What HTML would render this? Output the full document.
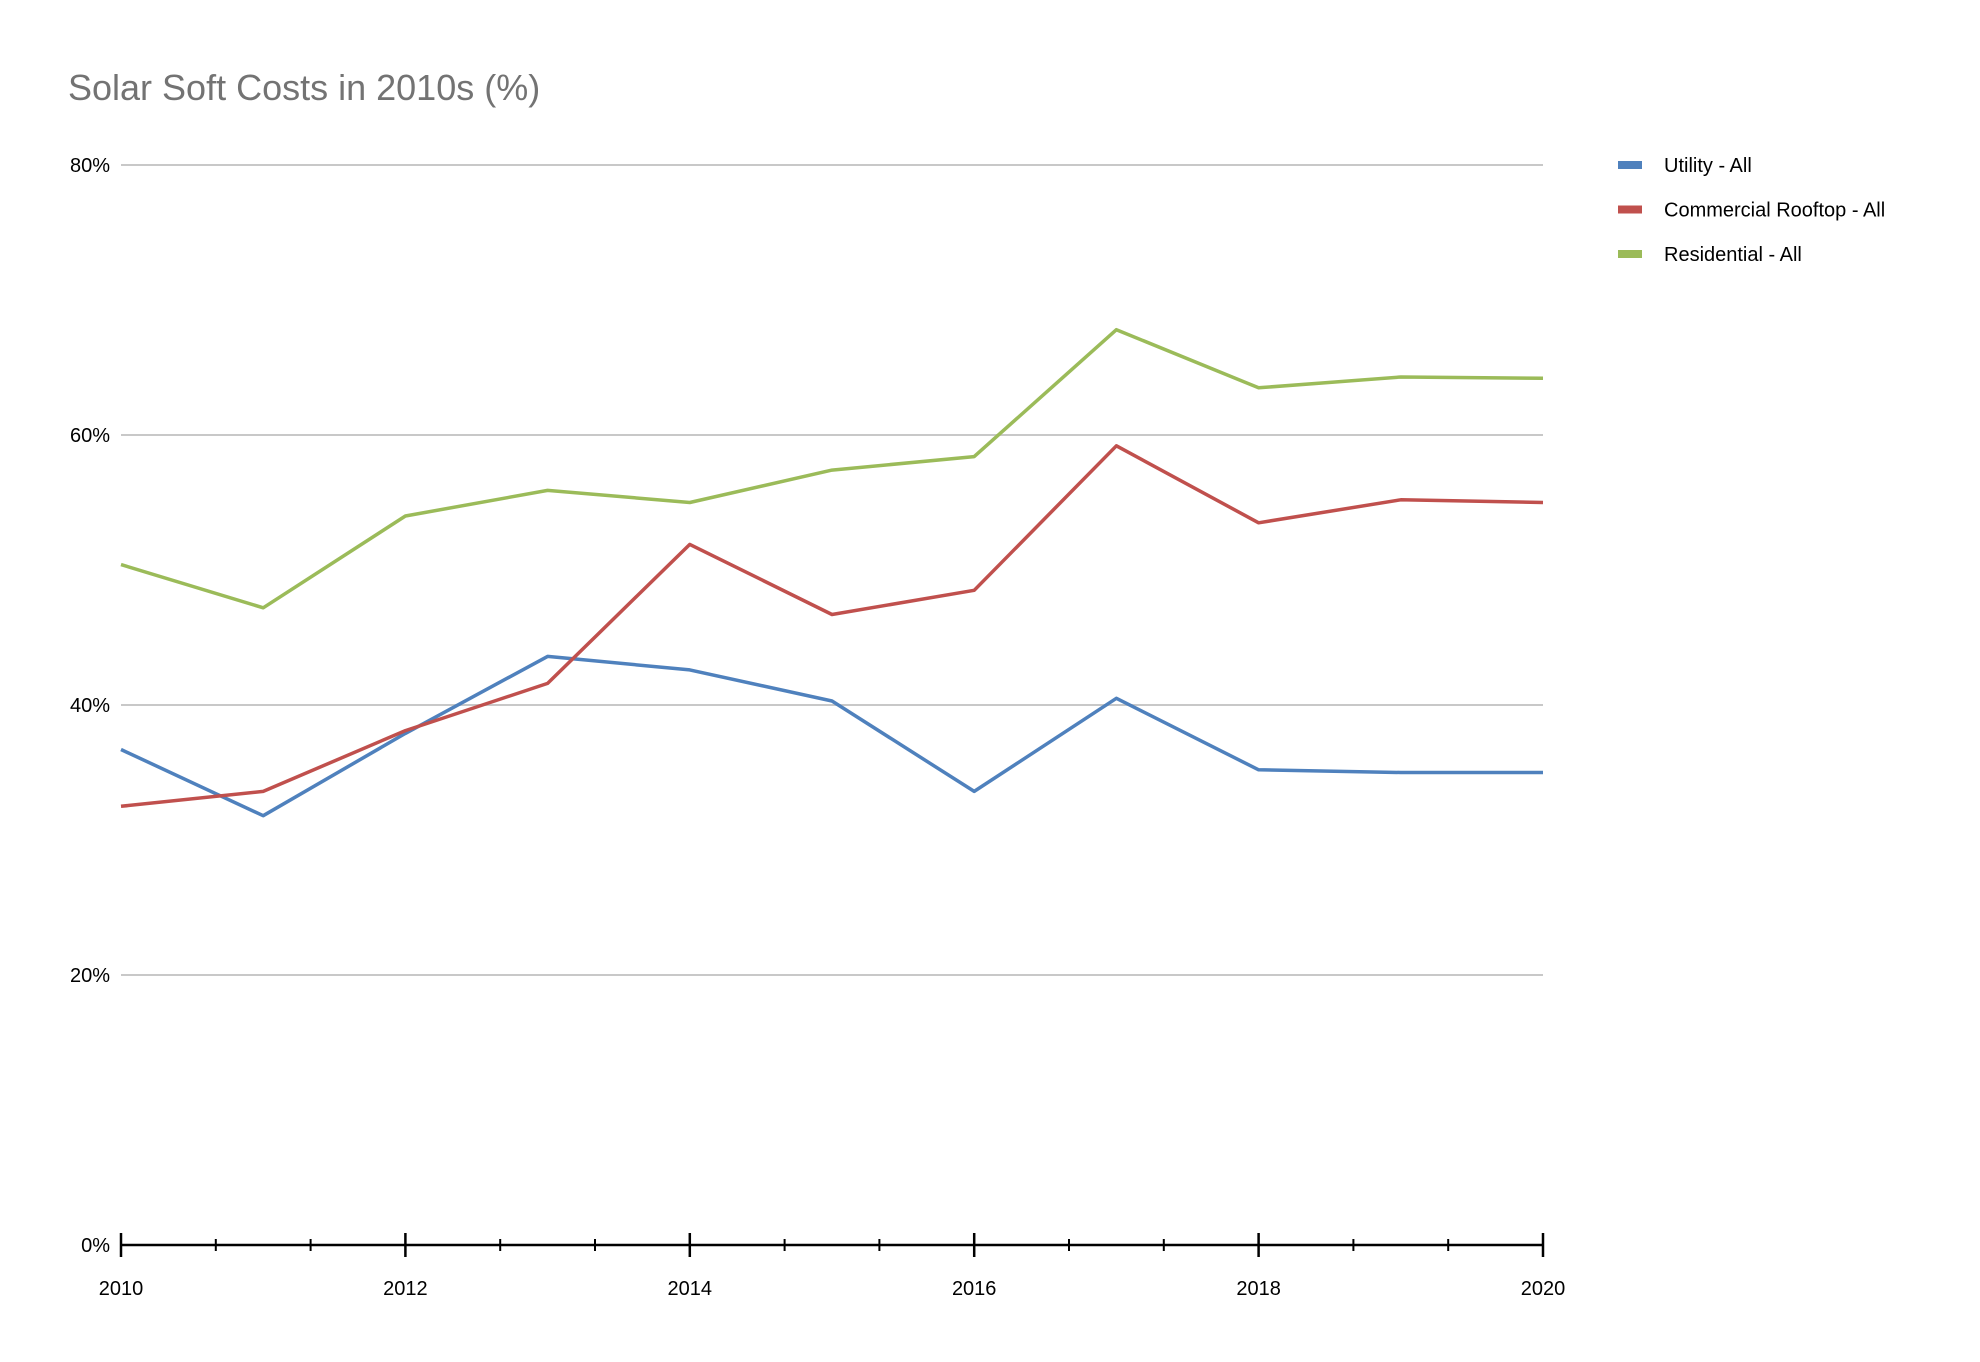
<!DOCTYPE html>
<html><head><meta charset="utf-8"><style>
html,body{margin:0;padding:0;background:#fff;}
svg{display:block;font-family:"Liberation Sans",sans-serif;}
</style></head><body>
<svg id="chart" width="1980" height="1362" viewBox="0 0 1980 1362">
<text x="68" y="100" font-size="36" fill="#737373">Solar Soft Costs in 2010s (%)</text>
<g id="grid"></g>
<g id="axes"></g>
<g id="series"></g>
<g id="legend"></g>
</svg>
<script>
const years = [2010,2011,2012,2013,2014,2015,2016,2017,2018,2019,2020];
const utility = [36.7,31.8,37.9,43.6,42.6,40.3,33.6,40.5,35.2,35.0,35.0];
const commercial = [32.5,33.6,38.1,41.6,51.9,46.7,48.5,59.2,53.5,55.2,55.0];
const residential = [50.4,47.2,54.0,55.9,55.0,57.4,58.4,67.8,63.5,64.3,64.2];
const yTicks = [0,20,40,60,80];
const xTickLabels = [2010,2012,2014,2016,2018,2020];
const seriesNames = ["Utility - All","Commercial Rooftop - All","Residential - All"];

const NS="http://www.w3.org/2000/svg";
const X0=121,X1=1543,Y0=1245,Y1=165;
const xs=v=>X0+(v-2010)/(2020-2010)*(X1-X0);
const ys=v=>Y0-(v/80)*(Y0-Y1);
function mk(tag,attrs,parent){const e=document.createElementNS(NS,tag);for(const k in attrs)e.setAttribute(k,attrs[k]);parent.appendChild(e);return e;}
const grid=document.getElementById('grid'),axes=document.getElementById('axes'),ser=document.getElementById('series'),leg=document.getElementById('legend');
yTicks.forEach(t=>{
  if(t>0){const l=mk('line',{x1:X0,x2:X1,y1:ys(t),y2:ys(t),stroke:'#c8c8c8','stroke-width':2},grid);
  
  }
  const tx=mk('text',{x:110,y:ys(t)+7,'font-size':20,'text-anchor':'end',fill:'#000'},axes);
  tx.textContent=t+'%';
  
  
});
const ax=mk('line',{x1:X0,x2:X1,y1:Y0,y2:Y0,stroke:'#000','stroke-width':2.5},axes);


for(let i=0;i<xTickLabels.length;i++){
  const v=xTickLabels[i];
  const tk=mk('line',{x1:xs(v),x2:xs(v),y1:Y0-12,y2:Y0+12,stroke:'#000','stroke-width':2.5},axes);
  
  
  const tx=mk('text',{x:xs(v),y:1295,'font-size':20,'text-anchor':'middle',fill:'#000'},axes);
  tx.textContent=v;
  
  
  if(i<xTickLabels.length-1){
    for(const f of [1/3,2/3]){
      const mx=xs(v+2*f);
      const m=mk('line',{x1:mx,x2:mx,y1:Y0-6,y2:Y0+6,stroke:'#000','stroke-width':2},axes);
      
      
    }
  }
}
const colors=['#4f81bd','#c0504d','#9bbb59'];
[utility,commercial,residential].forEach((d,si)=>{
  const pts=d.map((v,i)=>xs(years[i]).toFixed(1)+','+ys(v).toFixed(1)).join(' ');
  const pl=mk('polyline',{points:pts,fill:'none',stroke:colors[si],'stroke-width':3.5,'stroke-linejoin':'round'},ser);
  
  
  const ly=165+si*44.5;
  const sw=mk('rect',{x:1618,y:ly-4,width:24,height:8,fill:colors[si]},leg);
  
  
  const lt=mk('text',{x:1664,y:ly+7,'font-size':20,fill:'#000'},leg);
  lt.textContent=seriesNames[si];
  
  
});
</script>
</body></html>
